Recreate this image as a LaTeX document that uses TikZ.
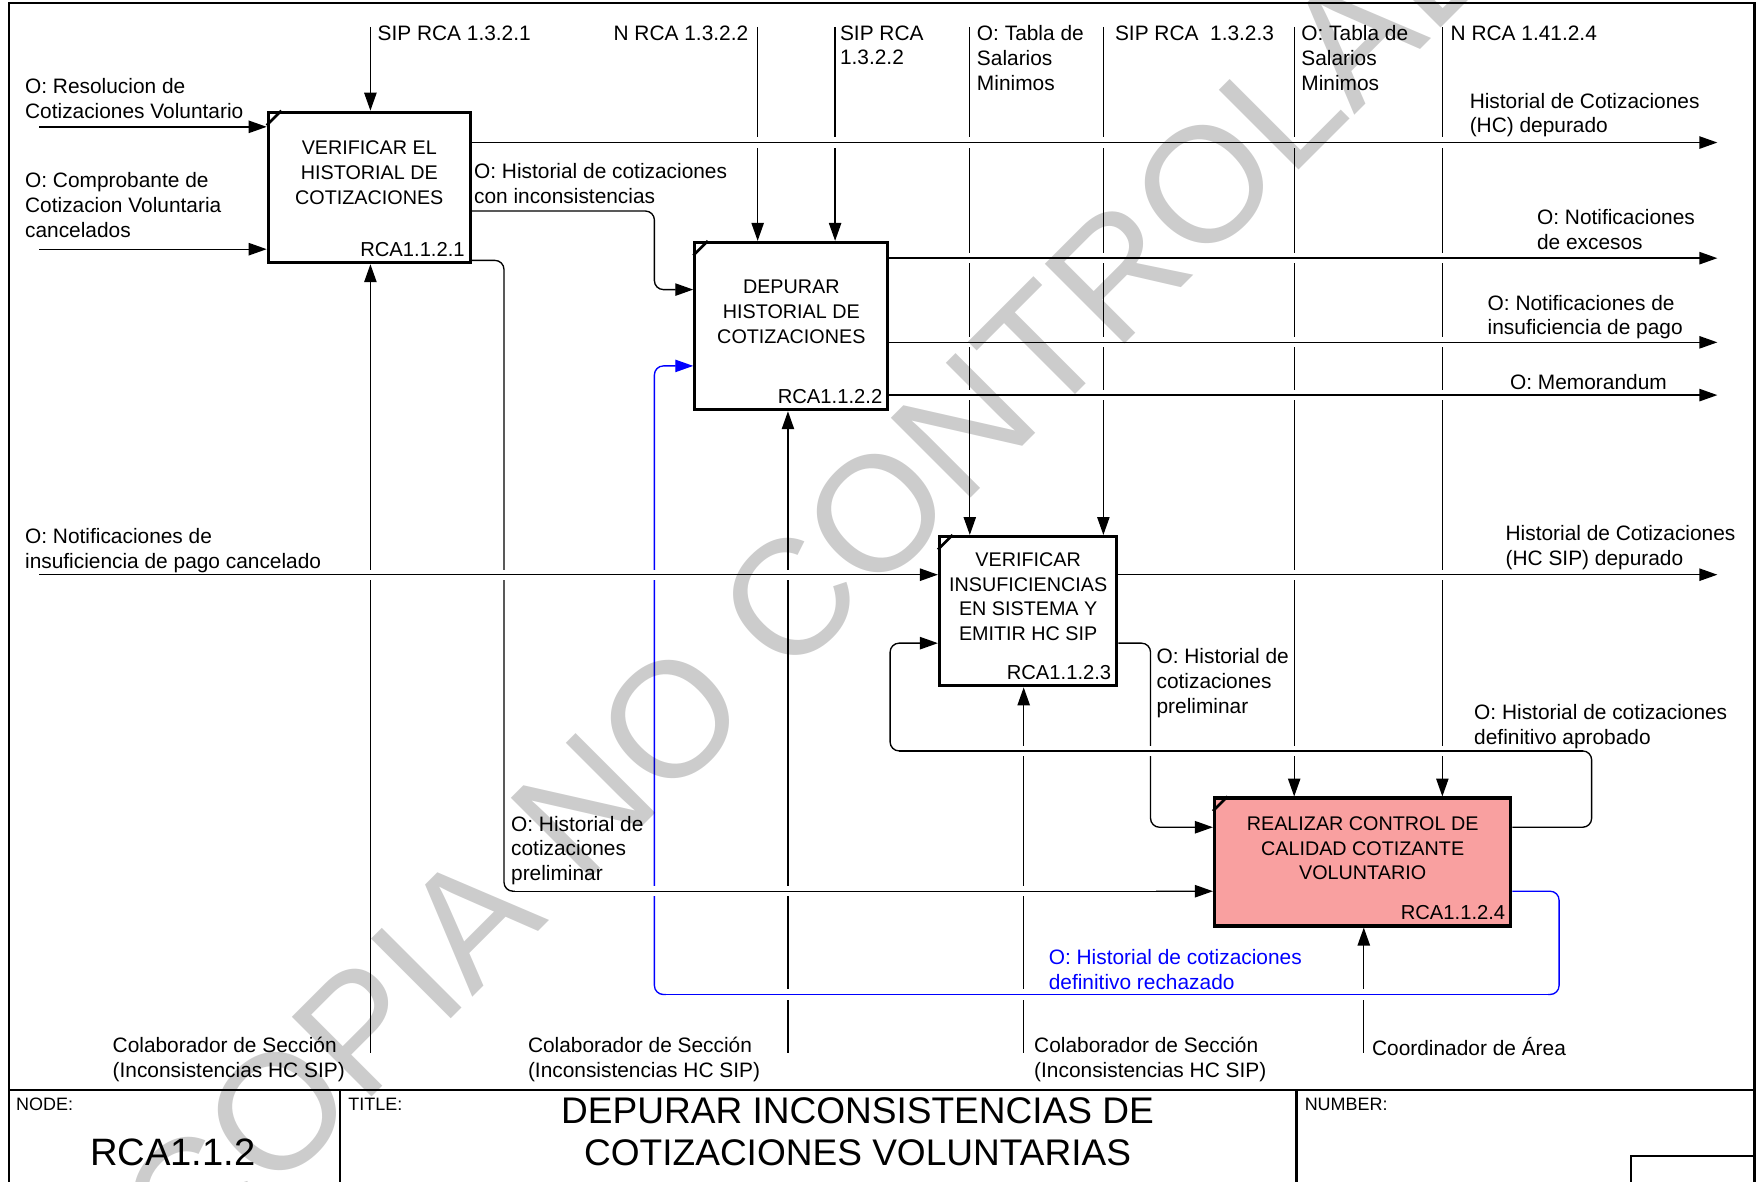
\documentclass[tikz,border=0pt]{standalone}
\usepackage{fontspec}
\setmainfont{Liberation Sans}
\usepackage{tikz}
\usetikzlibrary{arrows.meta,positioning}
\definecolor{idefpink}{RGB}{249,160,160}
\definecolor{idefblue}{RGB}{0,0,255}
\tikzstyle{wire} = [line width=0.6pt]
\tikzstyle{flow} = [wire, -{Triangle[length=8pt,width=5.5pt]}]
\tikzstyle{elbow} = [rounded corners=4pt]
\tikzstyle{xing} = [preaction={draw=white, line width=4.5pt, -, shorten <=5pt, shorten >=5pt}]
\tikzstyle{frame} = [line width=1pt]
\tikzstyle{actbox} = [rectangle, draw, line width=1.4pt, fill=white, inner sep=0pt]
\tikzstyle{cornertick} = [line width=1.2pt]
\tikzstyle{boxtext} = [align=center, inner sep=0pt, font=\fontsize{8.8}{11}\selectfont]
\tikzstyle{boxid} = [inner sep=0pt, font=\fontsize{9}{11}\selectfont]
\tikzstyle{lbl} = [align=left, anchor=north west, inner sep=0pt, font=\fontsize{9.3}{11}\selectfont]
\tikzstyle{head} = [anchor=north west, inner sep=0pt, font=\fontsize{8}{10}\selectfont]
\tikzstyle{wmark} = [text=black, text opacity=0.2, inner sep=0pt, font=\fontsize{73}{73}\selectfont]

\begin{document}
\begin{tikzpicture}[x=0.5pt, y=-0.5pt]
    \useasboundingbox (0,0) rectangle (1568,1053);
    \clip (0,0) rectangle (1568,1053);

    % Frame and title block
    \draw[frame] (8,3) rectangle (1563,1080);
    \draw[frame] (8,971) -- (1563,971);
    \draw[frame] (303,971) -- (303,1080);
    \draw[frame] (1155,971) -- (1155,1080);
    \draw[frame] (1453,1080) |- (1563,1030);
    \node[head] (nodehd) at (14,978) {NODE:};
    \node[inner sep=0pt, font=\fontsize{17}{20}\selectfont] (nodeno) at (154,1027) {RCA1.1.2};
    \node[head] (titlehd) at (310,978) {TITLE:};
    \node[align=center, inner sep=0pt, font=\fontsize{16.5}{18.5}\selectfont] (title) at (764,1008.5) {DEPURAR INCONSISTENCIAS DE\\COTIZACIONES VOLUNTARIAS};
    \node[head] (numhd) at (1162,978) {NUMBER:};

    % Activities
    \node[actbox, minimum width=90pt, minimum height=67pt] (verif) at (329,167) {};
    \node[actbox, minimum width=86pt, minimum height=74.5pt] (depur) at (705,290.5) {};
    \node[actbox, minimum width=79pt, minimum height=66.5pt] (insuf) at (916,544.5) {};
    \node[actbox, fill=idefpink, minimum width=132pt, minimum height=57pt] (calidad) at (1214,768) {};
    \foreach \b in {verif,depur,insuf,calidad}
        \draw[cornertick] ([yshift=-6.5pt]\b.north west) -- ([xshift=6.5pt]\b.north west);

    \node[boxtext, below=13.25pt of verif.north] (verift) {VERIFICAR EL\\HISTORIAL DE\\COTIZACIONES};
    \node[boxtext, below=17.25pt of depur.north] (depurt) {DEPURAR\\HISTORIAL DE\\COTIZACIONES};
    \node[boxtext, below=7.75pt of insuf.north] (insuft) {VERIFICAR\\INSUFICIENCIAS\\EN SISTEMA Y\\EMITIR HC SIP};
    \node[boxtext, below=8.75pt of calidad.north] (calidadt) {REALIZAR CONTROL DE\\CALIDAD COTIZANTE\\VOLUNTARIO};
    \node[boxid, above left=3.25pt and 3pt of verif.south east] (verifid) {RCA1.1.2.1};
    \node[boxid, above left=3.25pt and 3pt of depur.south east] (depurid) {RCA1.1.2.2};
    \node[boxid, above left=3.25pt and 3pt of insuf.south east] (insufid) {RCA1.1.2.3};
    \node[boxid, above left=3.25pt and 3pt of calidad.south east] (calidadid) {RCA1.1.2.4};

    % Free ends
    \coordinate (ctlA) at (330,24);
    \coordinate (ctlB) at (675,24);
    \coordinate (ctlC) at (744,24);
    \coordinate (ctlD) at (864,24);
    \coordinate (ctlE) at (983,24);
    \coordinate (ctlF) at (1153,24);
    \coordinate (ctlG) at (1285,24);
    \coordinate (mecA) at (330,938);
    \coordinate (mecB) at (702,938);
    \coordinate (mecC) at (912,938);
    \coordinate (mecD) at (1215,938);
    \coordinate (inRes) at (35,113);
    \coordinate (inComp) at (35,222);
    \coordinate (inNotif) at (35,512);
    \coordinate (outHC) at (1530,127);
    \coordinate (outExc) at (1530,230);
    \coordinate (outIns) at (1530,305);
    \coordinate (outMem) at (1530,352);
    \coordinate (outSIP) at (1530,512);

    % Bends
    \coordinate (k1) at (583,188);
    \coordinate (k2) at (583,258);
    \coordinate (k3) at (449,232);
    \coordinate (k4) at (449,794);
    \coordinate (k4e) at (1040,794);
    \coordinate (k5) at (1025,573);
    \coordinate (k6) at (1025,737);
    \coordinate (k7) at (1418,737);
    \coordinate (k8) at (1418,669);
    \coordinate (k9) at (793,669);
    \coordinate (k10) at (793,573);
    \coordinate (k11) at (1389,794);
    \coordinate (k12) at (1389,886);
    \coordinate (k13) at (583,886);
    \coordinate (k14) at (583,326);

    % Controls and mechanisms
    \foreach \c/\b in {ctlA/verif,ctlB/depur,ctlC/depur,ctlD/insuf,ctlE/insuf,ctlF/calidad,ctlG/calidad}
        \draw[flow] (\c) -- (\c |- \b.north);
    \foreach \m/\b in {mecA/verif,mecB/depur,mecC/insuf,mecD/calidad}
        \draw[flow] (\m) -- (\m |- \b.south);

    % Links between activities
    \draw[flow, elbow] (verif.east |- k1) -- (k1) -- (k2) -- (depur.west |- k2);
    \draw[flow, elbow] (verif.east |- k3) -- (k3) -- (k4) -- (calidad.west |- k4);
    \draw[flow, elbow] (insuf.east |- k5) -- (k5) -- (k6) -- (calidad.west |- k6);
    \draw[flow, elbow] (calidad.east |- k7) -- (k7) -- (k8) -- (k9) -- (k10) -- (insuf.west |- k10);
    \draw[flow, elbow, idefblue] (calidad.east |- k11) -- (k11) -- (k12) -- (k13) -- (k14) -- (depur.west |- k14);

    % Inputs and outputs
    \draw[flow] (inRes) -- (inRes -| verif.west);
    \draw[flow] (inComp) -- (inComp -| verif.west);
    \draw[flow, xing] (inNotif) -- (inNotif -| insuf.west);
    \draw[flow, xing] (verif.east |- outHC) -- (outHC);
    \draw[flow, xing] (depur.east |- outExc) -- (outExc);
    \draw[flow, xing] (depur.east |- outIns) -- (outIns);
    \draw[flow, xing] (depur.east |- outMem) -- (outMem);
    \draw[flow, xing] (insuf.east |- outSIP) -- (outSIP);

    % Crossings
    \draw[wire, xing, shorten <=4pt] (k4) -- (k4e);
    \draw[wire, xing, shorten <=4pt, shorten >=4pt] (k8) -- (k9);
    \draw[wire, idefblue, xing, shorten <=4pt, shorten >=4pt] (k12) -- (k13);

    % Labels
    \node[lbl] (lResol) at (22,69.5) {O: Resolucion de\\Cotizaciones Voluntario};
    \node[lbl] (lComp) at (22,153.5) {O: Comprobante de\\Cotizacion Voluntaria\\cancelados};
    \node[lbl] (lNotifC) at (22,470.5) {O: Notificaciones de\\insuficiencia de pago cancelado};
    \node[lbl] (lCtlA) at (336,22.5) {SIP RCA~1.3.2.1};
    \node[lbl, anchor=north east] (lCtlB) at (667,22.5) {N RCA 1.3.2.2};
    \node[lbl] (lCtlC) at (748,22.5) {SIP RCA\\1.3.2.2};
    \node[lbl] (lCtlD) at (870,22.5) {O: Tabla de\\Salarios\\Minimos};
    \node[lbl] (lCtlE) at (993,22.5) {SIP RCA~~1.3.2.3};
    \node[lbl] (lCtlF) at (1159,22.5) {O: Tabla de\\Salarios\\Minimos};
    \node[lbl] (lCtlG) at (1292,22.5) {N RCA 1.41.2.4};
    \node[lbl] (lHC) at (1309,82.5) {Historial de Cotizaciones\\(HC) depurado};
    \node[lbl] (lIncons) at (422,145.5) {O: Historial de cotizaciones\\con inconsistencias};
    \node[lbl] (lExc) at (1369,186.5) {O: Notificaciones\\de excesos};
    \node[lbl] (lIns) at (1325,262.5) {O: Notificaciones de\\insuficiencia de pago};
    \node[lbl] (lMem) at (1345,333.5) {O: Memorandum};
    \node[lbl] (lSIP) at (1341,467.5) {Historial de Cotizaciones\\(HC SIP) depurado};
    \node[lbl] (lPrelB) at (1030,577.5) {O: Historial de\\cotizaciones\\preliminar};
    \node[lbl] (lAprob) at (1313,627.5) {O: Historial de cotizaciones\\definitivo aprobado};
    \node[lbl] (lPrelA) at (455,726.5) {O: Historial de\\cotizaciones\\preliminar};
    \node[lbl, text=idefblue] (lRech) at (934,845.5) {O: Historial de cotizaciones\\definitivo rechazado};
    \node[lbl] (lMecA) at (100,923.5) {Colaborador de Sección\\(Inconsistencias HC SIP)};
    \node[lbl] (lMecB) at (470,923.5) {Colaborador de Sección\\(Inconsistencias HC SIP)};
    \node[lbl] (lMecC) at (921,923.5) {Colaborador de Sección\\(Inconsistencias HC SIP)};
    \node[lbl] (lMecD) at (1222,923.5) {Coordinador de Área};

    % Watermark
    \node[wmark, rotate=45] (wm) at (758,480) {COPIA NO CONTROLADA};
\end{tikzpicture}
\end{document}
